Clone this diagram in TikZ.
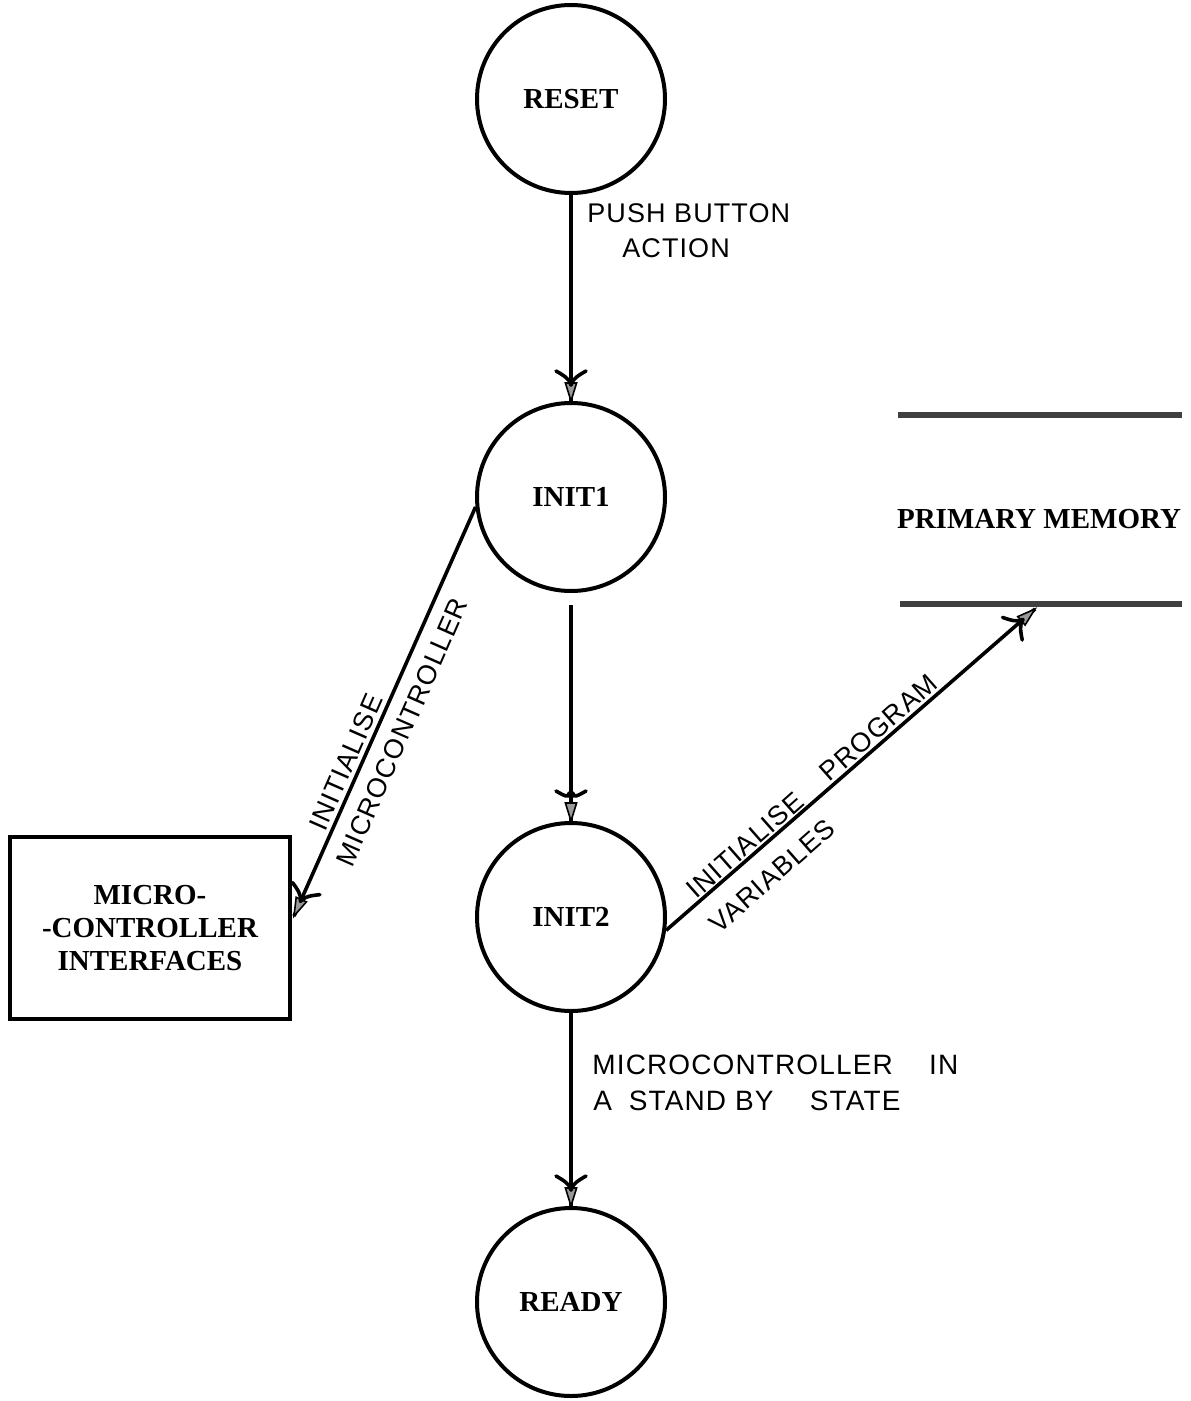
\documentclass[tikz,border=0pt]{standalone}
\usepackage{fontspec}
\setmainfont{Liberation Serif}
\newfontfamily\hand[LetterSpace=4]{Liberation Sans}
\usetikzlibrary{calc,decorations.markings}
\begin{document}
\begin{tikzpicture}[x=0.5pt,y=-0.5pt,
  proc/.style={circle,draw,line width=2pt,minimum size=94pt,inner sep=0pt,
    font=\fontsize{14.5}{16}\selectfont\bfseries},
  ext/.style={rectangle,draw,line width=2pt,minimum width=140pt,minimum height=91pt,
    align=center,font=\fontsize{14.5}{16.5}\selectfont\bfseries},
  store/.style={font=\fontsize{14.5}{16}\selectfont\bfseries},
  memline/.style={line width=3pt,draw=black!75},
  % hand-drawn "Y" arrow head placed at the end of a flow
  flow/.style={line width=1.8pt,postaction={decorate},
    decoration={markings,mark=at position 1 with {
      \filldraw[line width=0.8pt,fill=black!40] (0,0) -- (-9pt,2.8pt) -- (-9pt,-2.8pt) -- cycle;
      \draw[line width=1.8pt,line cap=round]
        (-8pt,0) .. controls (-11pt,0.6pt) and (-13pt,4pt) .. (-15pt,7.5pt);
      \draw[line width=1.8pt,line cap=round]
        (-8pt,0) .. controls (-11pt,-0.6pt) and (-13pt,-4pt) .. (-15pt,-7.5pt);
    }}},
  lab/.style={font=\hand\fontsize{13.5}{16}\selectfont,inner sep=0pt},
  labbig/.style={font=\hand\fontsize{14}{16}\selectfont,inner sep=0pt}
]
\useasboundingbox (0,0) rectangle (1190,1401);

% processes
\node[proc] (reset) at (571,99)   {RESET};
\node[proc] (init1) at (571,497)  {INIT1};
\node[proc] (init2) at (571,917)  {INIT2};
\node[proc] (ready) at (571,1302) {READY};

% external entity
\node[ext] (mci) at (150,928) {MICRO-\\-CONTROLLER\\INTERFACES};

% data store
\node[store] (mem) at (1039,519) {PRIMARY MEMORY};
\draw[memline] (898,415) -- (1182,415);
\draw[memline] (900,604) -- (1182,604);
\coordinate (memin) at (1035,609);

% flows
\draw[flow] (reset) -- (init1);
\draw[flow,shorten <=6pt] (init1) -- (init2);
\draw[flow] (init2) -- (ready);
\draw[flow] (init1.186) -- ($(mci.east)+(2,-12)$);
\draw[flow] (init2.352) -- (memin);

% flow labels
\node[lab,anchor=west] at (587,213) {PUSH BUTTON};
\node[lab,anchor=west] at (622,248) {ACTION};
\node[lab,rotate=66.3] at (346,762) {INITIALISE};
\node[lab,rotate=66.3] at (402,732) {MICROCONTROLLER};
\node[lab,rotate=41.4] at (812,786) {INITIALISE\hspace{1.2em}PROGRAM};
\node[lab,rotate=41.4] at (772,876) {VARIABLES};
\node[labbig,anchor=west] at (592,1065) {MICROCONTROLLER\hspace{1.3em}IN};
\node[labbig,anchor=west] at (593,1101) {A\hspace{0.6em}STAND BY\hspace{1.3em}STATE};
\end{tikzpicture}
\end{document}
